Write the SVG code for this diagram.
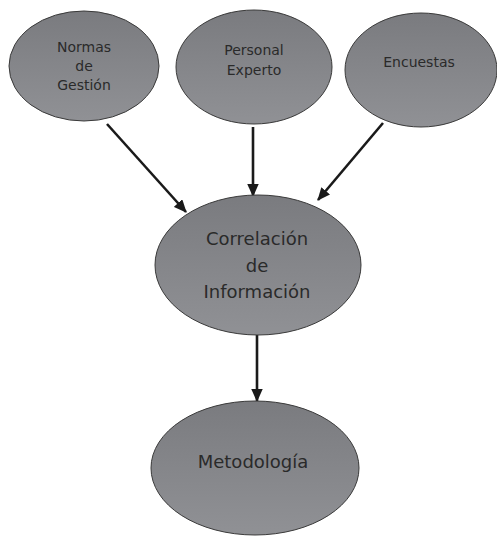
<svg xmlns="http://www.w3.org/2000/svg" width="497" height="536" viewBox="0 0 497 536">
<defs>
<linearGradient id="g" x1="0" y1="0" x2="0" y2="1">
<stop offset="0" stop-color="#7a7b7f"/>
<stop offset="1" stop-color="#909195"/>
</linearGradient>
<marker id="ah" markerWidth="5" markerHeight="4.4" refX="4.6" refY="2.2" orient="auto" markerUnits="strokeWidth">
<path d="M0,0 L5,2.2 L0,4.4 Z" fill="#1a1a1a"/>
</marker>
<style>
.n ellipse{fill:url(#g);stroke:#3a3a3a;stroke-width:1}
.n text{font-family:"DejaVu Sans","Liberation Sans",sans-serif;fill:#2a2a2a;text-anchor:middle}
.s{font-size:14px}
.b{font-size:18px}
#edges line{stroke:#1a1a1a;stroke-width:2.6;marker-end:url(#ah)}
</style>
</defs>
<rect width="497" height="536" fill="#ffffff"/>
<g id="edges">
<line x1="107" y1="124" x2="186" y2="212"/>
<line x1="253" y1="127" x2="253" y2="196"/>
<line x1="383" y1="123" x2="318" y2="200"/>
<line x1="257" y1="335" x2="257" y2="401"/>
</g>
<g id="normas" class="n">
<ellipse cx="84" cy="66" rx="75" ry="55"/>
<text class="s" x="84" y="52">Normas</text>
<text class="s" x="84" y="71">de</text>
<text class="s" x="84" y="90">Gestión</text>
</g>
<g id="personal" class="n">
<ellipse cx="254" cy="67" rx="78" ry="57"/>
<text class="s" x="254" y="55">Personal</text>
<text class="s" x="254" y="75">Experto</text>
</g>
<g id="encuestas" class="n">
<ellipse cx="421" cy="70" rx="76" ry="57"/>
<text class="s" x="419" y="67">Encuestas</text>
</g>
<g id="correlacion" class="n">
<ellipse cx="258" cy="265" rx="103" ry="70"/>
<text class="b" x="257" y="245">Correlación</text>
<text class="b" x="257" y="272">de</text>
<text class="b" x="257" y="298">Información</text>
</g>
<g id="metodologia" class="n">
<ellipse cx="255" cy="468" rx="104" ry="67"/>
<text class="b" x="253" y="468">Metodología</text>
</g>
</svg>
